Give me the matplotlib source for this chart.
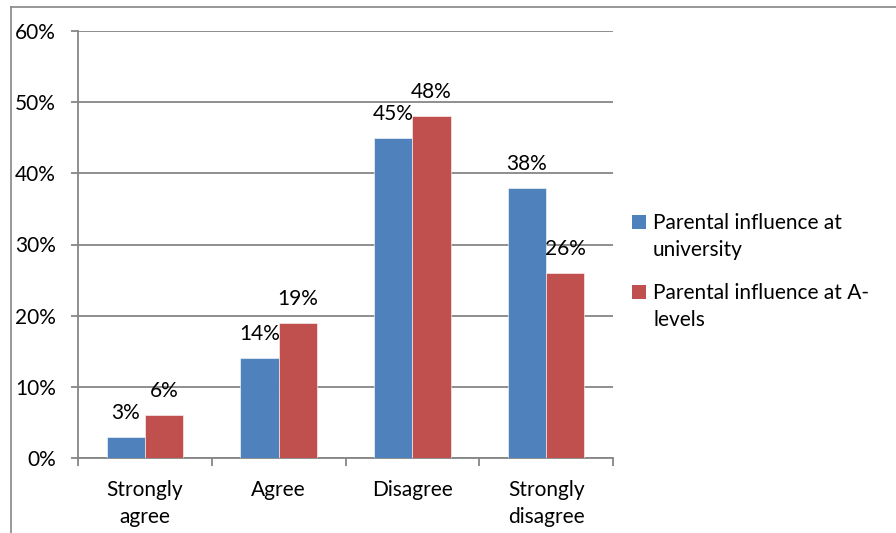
import numpy as np
import matplotlib.pyplot as plt
from matplotlib.lines import Line2D
from matplotlib.patches import Rectangle

plt.rcParams['font.family'] = ['Lato', 'DejaVu Sans']

# data
categories = ['Strongly\nagree', 'Agree', 'Disagree', 'Strongly\ndisagree']
university = [3, 14, 45, 38]
a_levels = [6, 19, 48, 26]
series_names = ['Parental influence at\nuniversity', 'Parental influence at A-\nlevels']
yticks = [0, 10, 20, 30, 40, 50, 60]

blue = '#4F81BD'
red = '#C0504D'
grey = '#868686'
fs = 15

fig = plt.figure(figsize=(8.96, 5.33), dpi=100)
W, H = 896, 533
ax = fig.add_axes([78 / W, (H - 458) / H, (613 - 78) / W, (458 - 31) / H])

x = np.arange(len(categories))
bw = 1 / 3.5
b1 = ax.bar(x - bw / 2, university, bw, color=blue, edgecolor='white', linewidth=0.4, zorder=3)
b2 = ax.bar(x + bw / 2, a_levels, bw, color=red, edgecolor='white', linewidth=0.4, zorder=3)

for bars, vals in [(b1, university), (b2, a_levels)]:
    for r, v in zip(bars, vals):
        ax.annotate(f'{v}%', (r.get_x() + r.get_width() / 2, v), xytext=(0, 13),
                    textcoords='offset points', ha='center', va='baseline', fontsize=fs)

ax.set_xlim(-0.5, len(categories) - 0.5)
ax.set_ylim(0, 60)
ax.set_yticks(yticks)
ax.set_yticklabels([f'{t}%' for t in yticks], fontsize=fs)
ax.yaxis.grid(True, color=grey, linewidth=1.3, zorder=0)
ax.tick_params(axis='y', length=5, width=1.3, color=grey, pad=11)

# x ticks at category boundaries, labels at centres
ax.set_xticks(np.arange(-0.5, len(categories), 1))
ax.set_xticklabels([])
ax.set_xticks(x, minor=True)
ax.set_xticklabels(categories, minor=True, fontsize=fs, linespacing=1.45)
ax.tick_params(axis='x', which='major', length=6, width=1.3, color=grey)
ax.tick_params(axis='x', which='minor', length=0, pad=16)

for s in ['top', 'right']:
    ax.spines[s].set_visible(False)
for s in ['left', 'bottom']:
    ax.spines[s].set_color(grey)
    ax.spines[s].set_linewidth(1.3)

# legend (key square beside first line of each label)
for i, (name, col) in enumerate(zip(series_names, [blue, red])):
    yc = 222 + 70 * i
    fig.add_artist(Rectangle((632 / W, 1 - (yc + 7) / H), 14 / W, 14 / H,
                             transform=fig.transFigure, facecolor=col, edgecolor='none'))
    fig.text(653 / W, 1 - (yc + 6 + 28) / H, name, fontsize=fs, ha='left', va='baseline',
             linespacing=1.45)

# outer chart border
fig.add_artist(Line2D([11 / W, 11 / W], [0, 1 - 7 / H], color=grey, linewidth=1.2))
fig.add_artist(Line2D([11 / W, 1], [1 - 7 / H, 1 - 7 / H], color=grey, linewidth=1.2))

fig.savefig('out.png', dpi=100)
